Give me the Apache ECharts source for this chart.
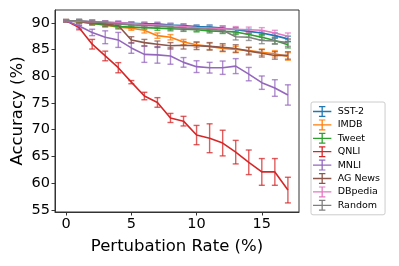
<!DOCTYPE html>
<html><head><meta charset="utf-8">
<script src="https://cdn.jsdelivr.net/npm/echarts@6/dist/echarts.min.js"></script>
<style>html,body{margin:0;padding:0;background:#fff}#c{width:399px;height:266px}</style>
</head><body><div id="c"></div>
<script>
const rates = [0,1,2,3,4,5,6,7,8,9,10,11,12,13,14,15,16,17];
const xTicks = [0,5,10,15];
const yTicks = [55,60,65,70,75,80,85,90];
const names = ['SST-2','IMDB','Tweet','QNLI','MNLI','AG News','DBpedia','Random'];
const colors = ['#1f77b4','#ff7f0e','#2ca02c','#d62728','#9467bd','#8c564b','#e377c2','#7f7f7f'];

const sst2 = [90.4,90.3,90.2,90.1,90.0,89.9,89.8,89.8,89.6,89.5,89.3,89.2,89.0,88.7,88.4,88.1,87.6,87.0];
const sst2Err = [0.2,0.3,0.3,0.3,0.3,0.3,0.3,0.3,0.3,0.3,0.3,0.4,0.4,0.4,0.4,0.4,0.5,0.5];
const imdb = [90.4,90.2,89.9,89.6,89.2,89.0,88.6,87.6,87.3,86.4,85.9,85.6,85.2,85.0,84.8,84.5,84.2,83.7];
const imdbErr = [0.2,0.3,0.3,0.4,0.4,0.4,0.5,0.5,0.5,0.5,0.5,0.6,0.6,0.6,0.6,0.6,0.6,0.7];
const tweet = [90.4,90.2,89.9,89.6,89.3,89.2,89.1,89.0,88.9,88.8,88.7,88.5,88.4,88.3,87.8,87.3,86.7,85.9];
const tweetErr = [0.2,0.3,0.3,0.3,0.3,0.3,0.3,0.4,0.4,0.4,0.4,0.4,0.4,0.5,0.5,0.5,0.6,0.6];
const qnli = [90.4,89.1,86.0,83.8,81.6,78.9,76.3,75.1,72.2,71.6,69.0,68.4,67.5,65.8,63.9,62.1,62.1,58.7];
const qnliErr = [0.2,0.4,0.9,0.9,0.95,0.3,0.7,0.9,0.85,0.9,1.8,2.7,2.4,2.2,2.3,2.5,2.5,2.4];
const mnli = [90.4,89.4,88.2,87.3,86.8,85.3,84.1,84.0,83.8,82.6,81.8,81.6,81.6,81.9,80.4,78.8,77.8,76.5];
const mnliErr = [0.1,0.4,0.6,1.2,1.4,1.0,1.5,1.55,1.55,0.9,1.1,1.0,1.25,1.4,1.25,1.25,1.55,1.9];
const agnews = [90.4,90.2,90.0,89.8,89.5,86.8,86.3,86.0,85.7,85.8,85.7,85.6,85.4,85.2,84.7,84.3,83.9,83.9];
const agnewsErr = [0.2,0.3,0.3,0.4,0.4,0.6,0.6,0.6,0.6,0.7,0.7,0.7,0.7,0.7,0.7,0.7,0.7,0.7];
const dbpedia = [90.4,90.3,90.2,90.1,90.0,89.9,89.7,89.6,89.5,89.3,89.1,89.0,88.9,88.8,88.7,88.6,88.1,87.5];
const dbpediaErr = [0.2,0.3,0.3,0.3,0.3,0.3,0.4,0.4,0.4,0.4,0.4,0.5,0.5,0.5,0.5,0.5,0.5,0.6];
const random = [90.4,90.4,90.2,90.0,89.8,89.6,89.5,89.4,89.2,89.0,88.9,88.8,88.6,87.4,87.3,86.7,86.6,86.3];
const randomErr = [0.2,0.3,0.3,0.3,0.4,0.4,0.4,0.4,0.5,0.5,0.5,0.5,0.5,0.6,0.6,0.6,0.6,0.7];

const values = [sst2,imdb,tweet,qnli,mnli,agnews,dbpedia,random];
const errors = [sst2Err,imdbErr,tweetErr,qnliErr,mnliErr,agnewsErr,dbpediaErr,randomErr];

const font = 'DejaVu Sans';
const axisColor = '#333';
const series = [];
names.forEach((n, i) => {
  const col = colors[i];
  series.push({
    name: n, type: 'line', data: rates.map((x, k) => [x, values[i][k]]),
    showSymbol: false, symbol: 'none',
    lineStyle: {color: col, width: 1.6}, itemStyle: {color: col},
    silent: true
  });
  series.push({
    name: n + '_err', type: 'custom',
    data: rates.map((x, k) => [x, values[i][k], errors[i][k]]),
    encode: {x: 0, y: 1},
    renderItem: function (params, api) {
      const x = api.value(0), y = api.value(1), e = api.value(2);
      const t = api.coord([x, y + e]), b = api.coord([x, y - e]);
      const w = 3;
      const st = {stroke: col, lineWidth: 1.4, opacity: 0.75};
      return {type: 'group', children: [
        {type: 'line', shape: {x1: t[0], y1: t[1], x2: b[0], y2: b[1]}, style: st},
        {type: 'line', shape: {x1: t[0] - w, y1: t[1], x2: t[0] + w, y2: t[1]}, style: st},
        {type: 'line', shape: {x1: b[0] - w, y1: b[1], x2: b[0] + w, y2: b[1]}, style: st}
      ]};
    },
    silent: true
  });
});

const icon = 'path://M0,5.3h20v1.4h-20Z M9.3,0h1.4v12h-1.4Z M6.5,0h7v1.3h-7Z M6.5,10.7h7v1.3h-7Z';

const chart = echarts.init(document.getElementById('c'), null, {renderer: 'canvas'});
chart.setOption({
  animation: false,
  backgroundColor: '#fff',
  grid: {left: 55, top: 10, right: 100, bottom: 54, show: true, borderColor: axisColor, borderWidth: 1,
         containLabel: false, outerBoundsMode: 'none'},
  legend: {
    data: names, orient: 'vertical', left: 311, top: 102,
    icon: icon, itemWidth: 19, itemHeight: 11, itemGap: 2.4,
    textStyle: {fontFamily: font, fontSize: 9.5, color: '#000', padding: [0, 0, 0, 1]},
    borderColor: '#ccc', borderWidth: 1, borderRadius: 2, padding: [4, 5, 4, 2],
    selectedMode: false
  },
  xAxis: {
    type: 'value', min: -0.85, max: 17.85,
    name: 'Pertubation Rate (%)', nameLocation: 'middle', nameGap: 26.5, nameMoveOverlap: false,
    nameTextStyle: {fontFamily: font, fontSize: 16.5, color: '#000'},
    axisLine: {show: true, onZero: false, lineStyle: {color: axisColor}},
    axisTick: {show: true, length: 3.5, lineStyle: {color: axisColor}, customValues: xTicks},
    axisLabel: {fontFamily: font, fontSize: 14.5, color: '#000', margin: 5, customValues: xTicks},
    splitLine: {show: false}
  },
  yAxis: {
    type: 'value', min: 54.6, max: 92.4,
    name: 'Accuracy (%)', nameLocation: 'middle', nameGap: 29, nameMoveOverlap: false,
    nameTextStyle: {fontFamily: font, fontSize: 16.5, color: '#000'},
    axisLine: {show: true, onZero: false, lineStyle: {color: axisColor}},
    axisTick: {show: true, length: 3.5, lineStyle: {color: axisColor}, customValues: yTicks},
    axisLabel: {fontFamily: font, fontSize: 14.5, color: '#000', margin: 5, customValues: yTicks},
    splitLine: {show: false}
  },
  series: series
});
</script></body></html>
